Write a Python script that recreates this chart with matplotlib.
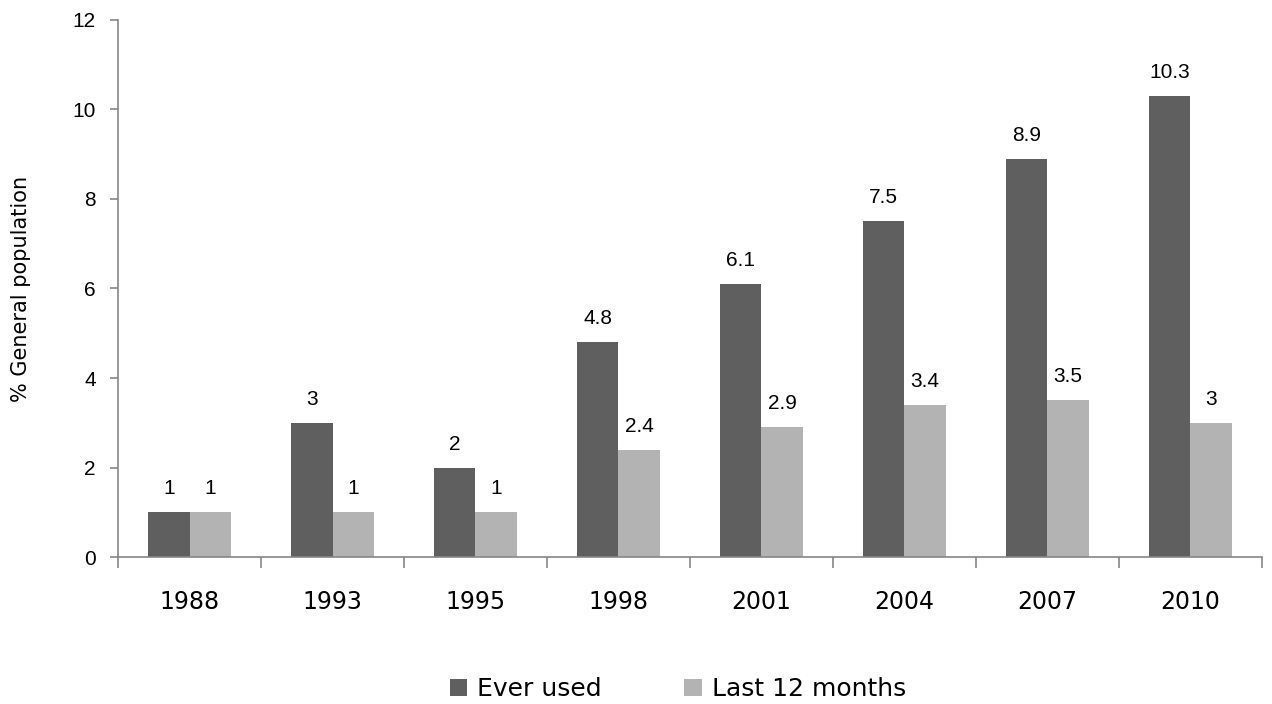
import matplotlib.pyplot as plt
import numpy as np

years = ['1988', '1993', '1995', '1998', '2001', '2004', '2007', '2010']
ever_used = [1, 3, 2, 4.8, 6.1, 7.5, 8.9, 10.3]
last_12_months = [1, 1, 1, 2.4, 2.9, 3.4, 3.5, 3]

dark = '#5f5f5f'
light = '#b3b3b3'
axis_col = '#868686'

fig = plt.figure(figsize=(12.72, 7.04), dpi=100)
ax = fig.add_axes([0.0928, 0.2088, 0.8992, 0.7628])

x = np.arange(len(years))
w = 0.29
b1 = ax.bar(x - w / 2, ever_used, w, color=dark, label='Ever used')
b2 = ax.bar(x + w / 2, last_12_months, w, color=light, label='Last 12 months')

def fmt(v):
    return f'{v:g}'

for bars, vals in ((b1, ever_used), (b2, last_12_months)):
    for r, v in zip(bars, vals):
        ax.annotate(fmt(v), (r.get_x() + r.get_width() / 2, v),
                    xytext=(0, 10), textcoords='offset points',
                    ha='center', va='bottom', fontsize=15,
                    family='Liberation Sans')

ax.set_xlim(-0.5, len(years) - 0.5)
ax.set_ylim(0, 12)
ax.set_yticks(range(0, 13, 2))
ax.set_yticklabels([str(t) for t in range(0, 13, 2)], family='Liberation Sans')
ax.tick_params(axis='y', labelsize=15, length=6, color=axis_col, width=1.2, pad=10)
ax.set_xticks(x)
ax.set_xticklabels(years, fontsize=17)
ax.tick_params(axis='x', length=0, pad=24)
ax.set_xticks(np.arange(-0.5, len(years), 1), minor=True)
ax.tick_params(axis='x', which='minor', length=8, color=axis_col, width=1.2)

for s in ('top', 'right'):
    ax.spines[s].set_visible(False)
for s in ('left', 'bottom'):
    ax.spines[s].set_color(axis_col)
    ax.spines[s].set_linewidth(1.2)

ax.set_ylabel('% General population', fontsize=15, labelpad=30)

fig.legend(handles=[b1, b2], loc='lower center', bbox_to_anchor=(0.533, -0.028),
           ncol=2, frameon=False, fontsize=18, handlelength=0.7,
           handleheight=0.7, columnspacing=3.3, handletextpad=0.4)

fig.savefig('out.png', dpi=100)
